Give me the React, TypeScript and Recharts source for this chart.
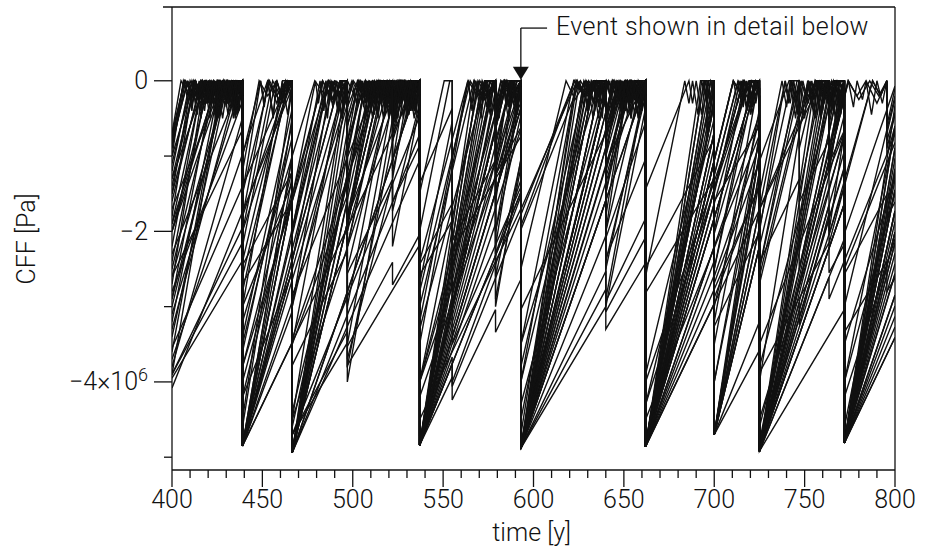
import React from "react";
import { LineChart, Line, XAxis, YAxis, ReferenceLine, ReferenceDot } from "recharts";

type Pt = [number, number];

// Coulomb failure function histories of individual fault patches.
// Each entry is [time in years, CFF in MPa (x10^6 Pa)].
const f01: Pt[] = [[400,-0.7],[407,0],[412,-0.2],[417,0],[423,-0.3],[428,0],[434,-0.15],[439,0],[439,-4.8],[487,0],[492,-0.2],[497,0],[503,-0.3],[509,0],[516,-0.2],[523,0],[530,-0.25],[537,0],[537,-4.8],[585,0],[589,-0.2],[593,0],[593,-4.85],[641.5,0],[647,-0.25],[653,0],[658,-0.15],[662,0],[662,-4.85],[710.5,0],[716,-0.2],[721,0],[725,-0.1],[725,-4.9],[774,0],[779,-0.2],[784,0],[790,-0.3],[795.5,0],[795.5,-0.6],[800,-0.1]];
const f02: Pt[] = [[400,-1.2],[410,0],[415,-0.25],[420,0],[426,-0.1],[431,0],[436,-0.3],[439,0],[439,-2.0],[455.7,0],[460,-0.2],[464,0],[466.5,-0.1],[466.5,-4.9],[507.3,0],[513,-0.2],[519,0],[524,-0.3],[530,0],[537,-0.15],[537,-4.0],[570.3,0],[575,-0.2],[579,0],[579,-0.4],[584,0],[589,-0.2],[593,0],[593,-4.5],[630.5,0],[636,-0.2],[640,0],[640,-0.5],[644,0],[650,-0.3],[656,0],[662,-0.1],[662,-4.8],[700,-0.24],[700,-2.5],[720.8,0],[725,-0.1],[725,-4.8],[765,0],[769,-0.2],[772,0],[772,-4.6],[800,-1.24]];
const f03: Pt[] = [[400,-2.0],[425,0],[430,-0.2],[435,0],[439,-0.1],[439,-4.85],[497,-0.2],[499.6,0],[505,-0.25],[511,0],[518,-0.15],[524,0],[531,-0.3],[537,0],[537,-4.85],[593,-0.37],[593,-4.9],[654.3,0],[658,-0.15],[662,0],[662,-4.86],[722.8,0],[725,-0.05],[725,-4.9],[772,-1.14],[772,-4.8],[800,-2.56]];
const f04: Pt[] = [[400,-3.0],[430,0],[434,-0.2],[439,0],[439,-3.5],[466.5,-0.75],[466.5,-4.94],[515.9,0],[522,-0.1],[522,-0.6],[528,0],[533,-0.2],[537,0],[537,-3.0],[567,0],[573,-0.25],[579,0],[579,-1.5],[593,-0.1],[593,-4.88],[640,-0.18],[640,-2.0],[660,0],[662,0],[662,-4.86],[700,-1.06],[700,-4.7],[747,0],[752,-0.2],[758,0],[763.5,-0.3],[768,0],[772,-0.1],[772,-4.81],[800,-2.01]];
const f05: Pt[] = [[400,-4.08],[466.5,-0.09],[466.5,-4.7],[522,-1.37],[537,-0.47],[537,-4.84],[555,-3.76],[555,-4.06],[593,-1.78],[622.7,0],[628,-0.2],[634,0],[640,-0.1],[640,-0.7],[651.7,0],[656,-0.2],[662,0],[662,-4.86],[700,-2.58],[700,-2.88],[725,-1.38],[725,-4.92],[763.5,-2.61],[763.5,-2.9],[800,-0.71]];
const f06: Pt[] = [[400,-3.9],[439,-1.95],[439,-4.85],[536,0],[537,0],[537,-4.5],[593,-1.7],[593,-4.88],[640,-2.53],[640,-2.93],[662,-1.83],[662,-4.86],[759.2,0],[764,-0.2],[768,0],[772,-0.1],[772,-4.81],[800,-3.41]];
const f07: Pt[] = [[400,-1.8],[412,0],[417,-0.3],[422,0],[428,-0.2],[433,0],[439,-0.15],[439,-4.6],[466.5,-0.48],[466.5,-4.5],[496.5,0],[497,0],[497,-1.5],[507,0],[512,-0.3],[517,0],[523,-0.2],[529,0],[534,-0.25],[537,0],[537,-4.84],[569.3,0],[574,-0.2],[579,0],[579,-2.2],[593,-0.1],[593,-4.7],[624.3,0],[630,-0.3],[635,0],[640,-0.1],[640,-1.8],[652,0],[657,-0.2],[662,0],[662,-4.86],[694.4,0],[696,0],[696,-0.8],[700,-0.2],[700,-4.7],[725,-0.95],[725,-4.92],[757.8,0],[763.5,0],[763.5,-1.0],[770.2,0],[772,0],[772,-4.81],[800,-0.6]];
const f08: Pt[] = [[400,-2.5],[425,0],[430,-0.2],[435,0],[439,-0.1],[439,-1.5],[454,0],[459,-0.25],[463,0],[466.5,-0.1],[466.5,-3.0],[496.5,0],[497,0],[497,-2.5],[522,0],[522,-1.2],[534,0],[537,0],[537,-4.84],[585.4,0],[589,-0.2],[593,0],[593,-2.5],[618,0],[623,-0.25],[629,0],[634,-0.15],[640,0],[640,-2.4],[662,-0.2],[662,-4.86],[710.6,0],[715,-0.2],[720,0],[725,-0.1],[725,-4.9],[772,-0.2],[772,-3.0],[800,-0.2]];
const f09: Pt[] = [[400,-3.7],[452.9,0],[458,-0.2],[463,0],[466.5,-0.05],[466.5,-4.94],[537,0],[537,-4.2],[593,-0.28],[593,-4.88],[640,-1.59],[640,-2.09],[662,-0.55],[662,-4.86],[700,-2.2],[700,-2.6],[725,-0.85],[725,-4.92],[772,-1.63],[772,-4.81],[800,-2.85]];
const f10: Pt[] = [[400,-0.9],[407.5,0],[413,-0.2],[419,0],[425,-0.35],[430,0],[435,-0.2],[439,0],[439,-4.85],[466.5,-1.55],[466.5,-2.4],[486.5,0],[491,-0.2],[497,0],[497,-3.8],[528.7,0],[533,-0.2],[537,0],[537,-2.0],[553.7,0],[555,0],[555,-3.0],[579,-0.12],[579,-1.0],[587.3,0],[593,0],[593,-4.88],[633.7,0],[640,0],[640,-0.6],[645,0],[651,-0.3],[656,0],[662,-0.1],[662,-4.86],[700,-0.3],[700,-4.7],[725,-1.7],[725,-2.5],[745.8,0],[747,0],[747,-1.5],[759.5,0],[763.5,0],[763.5,-0.5],[767.7,0],[772,0],[772,-4.81],[800,-1.45]];
const f11: Pt[] = [[400,-1.5],[416.7,0],[421,-0.2],[426,0],[431,-0.15],[435,0],[439,-0.1],[439,-4.0],[483.4,0],[489,-0.3],[494,0],[497,0],[497,-0.5],[502.6,0],[508,-0.2],[514,0],[520,-0.3],[526,0],[531,-0.15],[537,0],[537,-4.84],[590.8,0],[593,0],[593,-4.3],[640,-0.07],[640,-1.0],[651.1,0],[656,-0.2],[662,0],[662,-4.86],[716,0],[720,-0.2],[725,0],[725,-4.92],[772,-0.69],[772,-4.0],[800,-1.48]];
const f12: Pt[] = [[400,-3.9],[439,-2.15],[439,-2.45],[466.5,-1.21],[466.5,-4.7],[497,-3.33],[497,-3.53],[522,-2.41],[522,-2.71],[537,-2.04],[537,-2.44],[555,-1.63],[555,-2.13],[579,-1.05],[579,-1.25],[593,-0.62],[593,-4.88],[640,-2.77],[640,-3.07],[662,-2.08],[662,-2.48],[700,-0.77],[700,-4.7],[725,-3.58],[725,-3.88],[763.5,-2.15],[763.5,-2.55],[772,-2.17],[772,-2.57],[795.5,-1.51],[795.5,-1.81],[800,-1.61]];
const f13: Pt[] = [[400,-2.2],[416.9,0],[422,-0.25],[427,0],[433,-0.2],[439,0],[439,-1.2],[448.2,0],[453,-0.2],[458,0],[462,-0.3],[466.5,0],[466.5,-4.94],[504.5,0],[510,-0.2],[516,0],[522,0],[522,-0.4],[525.1,0],[531,-0.25],[537,0],[537,-3.5],[563.9,0],[569,-0.2],[574,0],[579,0],[579,-0.6],[583.6,0],[588,-0.2],[593,0],[593,-4.0],[623.8,0],[629,-0.2],[634,0],[640,0],[640,-2.9],[662,-0.04],[662,-4.86],[699.4,0],[700,0],[700,-4.0],[725,-0.75],[725,-4.92],[762.8,0],[763.5,0],[763.5,-0.3],[766,0],[772,0],[772,-4.81],[800,-1.17]];
const f14: Pt[] = [[400,-1.0],[412.5,0],[418,-0.2],[423,0],[429,-0.3],[434,0],[439,-0.1],[439,-3.2],[479,0],[485,-0.2],[490,0],[497,-0.1],[497,-0.8],[507,0],[513,-0.2],[519,0],[526,-0.3],[531,0],[537,-0.1],[537,-4.84],[593,-0.36],[593,-4.88],[654,0],[658,-0.2],[662,0],[662,-4.86],[722.8,0],[725,0],[725,-4.5],[772,-0.74],[772,-4.81],[800,-2.57]];
const f15: Pt[] = [[400,-3.4],[430.9,0],[435,-0.2],[439,0],[439,-2.8],[464.5,0],[466.5,0],[466.5,-4.6],[497,-1.24],[497,-1.8],[513.4,0],[519,-0.25],[524,0],[530,-0.2],[537,0],[537,-4.84],[579,-0.22],[579,-2.0],[593,-0.46],[593,-4.88],[637.4,0],[640,0],[640,-1.5],[653.6,0],[658,-0.2],[662,0],[662,-4.86],[700,-0.68],[700,-4.7],[725,-1.95],[725,-2.5],[747,-0.08],[747,-2.5],[769.7,0],[772,0],[772,-4.81],[800,-1.73]];
const f16: Pt[] = [[400,-1.3],[413,0],[418,-0.3],[423,0],[428,-0.15],[433,0],[439,-0.2],[439,-2.4],[463,0],[466.5,0],[466.5,-4.94],[515.9,0],[522,0],[522,-0.7],[529,0],[533,-0.2],[537,0],[537,-2.8],[565,0],[570,-0.2],[575,0],[579,0],[579,-0.5],[584,0],[589,-0.3],[593,0],[593,-4.88],[640,-0.18],[640,-1.2],[652,0],[657,-0.2],[662,0],[662,-4.3],[700,-0.5],[700,-3.0],[725,-0.5],[725,-4.92],[774.2,0],[780,-0.25],[786,0],[791,-0.2],[795.5,0],[795.5,-0.9],[800,-0.45]];
const f17: Pt[] = [[400,-2.8],[439,-0.27],[439,-4.85],[466.5,-3.06],[466.5,-3.5],[497,-1.52],[497,-1.82],[525,0],[531,-0.2],[537,0],[537,-4.84],[555,-3.67],[555,-4.0],[593,-1.53],[593,-1.93],[622.7,0],[628,-0.2],[634,0],[640,0],[640,-0.4],[646.2,0],[652,-0.2],[657,0],[662,-0.1],[662,-4.86],[700,-2.39],[700,-2.69],[741.4,0],[747,0],[747,-0.6],[756.2,0],[762,-0.2],[767,0],[772,-0.1],[772,-4.81],[800,-2.99]];
const f18: Pt[] = [[400,-0.7],[405,0],[410,-0.2],[416,0],[421,-0.3],[426,0],[432,-0.2],[439,0],[439,-4.85],[466.5,-1.0],[466.5,-3.0],[488,0],[492,-0.2],[497,0],[497,-4.0],[525.6,0],[531,-0.2],[537,0],[537,-4.84],[571.6,0],[575,-0.2],[579,0],[579,-3.0],[593,-1.04],[593,-4.88],[627.9,0],[633,-0.25],[640,0],[640,-0.5],[643.6,0],[650,-0.3],[656,0],[662,-0.1],[662,-4.86],[696.7,0],[700,0],[700,-4.7],[725,-1.2],[725,-4.92],[760.1,0],[763.5,0],[763.5,-1.2],[772,0],[772,-4.81],[800,-0.89]];
const f19: Pt[] = [[400,-2.0],[421,0],[426,-0.2],[432,0],[439,-0.1],[439,-3.8],[466.5,-1.19],[466.5,-1.6],[483.3,0],[489,-0.25],[494,0],[497,0],[497,-3.7],[522,-1.33],[522,-1.73],[537,-0.3],[537,-4.84],[588,0],[593,0],[593,-4.88],[644.4,0],[649,-0.2],[655,0],[662,-0.1],[662,-4.86],[713.2,0],[719,-0.25],[725,0],[725,-4.6],[772,-0.13],[772,-4.81],[800,-2.15]];
const f20: Pt[] = [[400,-3.55],[439,-1.4],[464.5,0],[466.5,0],[466.5,-4.94],[537,-1.06],[537,-1.36],[555,-0.37],[555,-3.5],[593,-1.41],[593,-1.71],[624.1,0],[630,-0.2],[635,0],[640,-0.1],[640,-0.6],[651,0],[656,-0.25],[662,0],[662,-4.86],[700,-2.77],[725,-1.4],[725,-1.7],[755.9,0],[761,-0.2],[766,0],[772,-0.1],[772,-4.81],[800,-3.27]];
const f21: Pt[] = [[400,-3.2],[426.7,0],[432,-0.2],[436,0],[439,-0.1],[439,-4.85],[466.5,-1.55],[466.5,-4.94],[497,-1.28],[497,-1.8],[512,0],[517,-0.2],[522,0],[522,-0.5],[526.2,0],[531,-0.25],[537,0],[537,-4.84],[577.3,0],[579,0],[579,-1.0],[587.3,0],[593,0],[593,-3.5],[622.2,0],[628,-0.2],[634,0],[640,0],[640,-3.0],[662,-0.36],[662,-4.86],[700,-0.3],[700,-2.0],[716.7,0],[721,-0.2],[725,0],[725,-4.92],[766,0],[769,-0.2],[772,0],[772,-4.81],[800,-1.45]];
const f22: Pt[] = [[400,-1.9],[425.3,0],[430,-0.2],[435,0],[439,0],[439,-2.0],[465.7,0],[466.5,0],[466.5,-4.5],[522,-0.34],[522,-0.8],[532.7,0],[537,0],[537,-4.84],[593,-0.64],[593,-4.88],[658,0],[662,0],[662,-4.3],[719.3,0],[725,0],[725,-4.92],[772,-1.4],[772,-4.2],[800,-2.1]];
const f23: Pt[] = [[400,-1.0],[406.3,0],[411,-0.3],[416,0],[421,-0.2],[426,0],[432,-0.35],[437,0],[439,0],[439,-4.5],[466.5,-0.1],[466.5,-4.94],[497,-0.06],[497,-2.0],[509.5,0],[514,-0.3],[519,0],[525,-0.2],[531,0],[537,-0.1],[537,-4.84],[567.3,0],[572,-0.25],[579,0],[579,-1.2],[586.5,0],[593,0],[593,-4.88],[623.5,0],[628,-0.2],[634,0],[640,0],[640,-2.0],[652.5,0],[657,-0.3],[662,0],[662,-4.86],[692.4,0],[696,0],[696,-0.7],[700,-0.06],[700,-4.7],[725,-0.7],[725,-4.92],[755.8,0],[760,-0.2],[763.5,0],[763.5,-2.0],[772,-0.68],[772,-4.81],[800,-0.33]];
const f24: Pt[] = [[400,-2.6],[430.6,0],[435,-0.2],[439,0],[439,-4.85],[496,0],[497,0],[497,-0.6],[504,0],[510,-0.3],[515,0],[521,-0.2],[527,0],[532,-0.3],[537,0],[537,-4.0],[584,0],[588,-0.2],[593,0],[593,-4.88],[650.4,0],[656,-0.2],[662,0],[662,-4.86],[700,-1.63],[700,-2.03],[723.9,0],[725,0],[725,-4.92],[763.5,-1.65],[763.5,-2.05],[787.6,0],[792,-0.2],[795.5,0],[795.5,-0.8],[800,-0.42]];
const f25: Pt[] = [[400,-3.95],[439,-2.39],[439,-2.69],[466.5,-1.59],[466.5,-4.7],[497,-3.48],[497,-3.78],[537,-2.18],[537,-2.58],[555,-1.86],[555,-2.26],[593,-0.74],[593,-4.88],[640,-3.0],[640,-3.3],[662,-2.42],[662,-2.82],[700,-1.3],[700,-1.6],[725,-0.6],[725,-4.92],[772,-3.04],[772,-3.34],[795.5,-2.4],[795.5,-2.8],[800,-2.62]];
const f26: Pt[] = [[400,-1.6],[416,0],[421,-0.25],[426,0],[432,-0.2],[439,0],[439,-4.2],[466.5,-1.45],[466.5,-2.0],[486.5,0],[492,-0.2],[497,0],[497,-0.35],[503,0],[509,-0.2],[515,0],[521,-0.3],[527,0],[532,-0.2],[537,0],[537,-4.84],[585.4,0],[593,0],[593,-4.0],[633,0],[640,0],[640,-0.8],[648,0],[655,-0.2],[662,0],[662,-4.86],[700,-1.06],[700,-4.7],[725,-2.2],[725,-2.6],[747,-0.4],[747,-0.9],[756,0],[763.5,0],[763.5,-0.4],[767.5,0],[772,0],[772,-4.81],[800,-2.01]];
const f27: Pt[] = [[400,-2.9],[423.2,0],[428,-0.2],[433,0],[439,0],[439,-1.8],[453.4,0],[458,-0.3],[463,0],[466.5,0],[466.5,-3.5],[494.5,0],[497,0],[497,-3.0],[521,0],[522,0],[522,-2.2],[537,-0.33],[537,-4.84],[575.7,0],[579,0],[579,-2.9],[593,-1.15],[593,-4.88],[632,0],[637,-0.2],[640,0],[640,-0.5],[644,0],[650,-0.2],[656,0],[662,0],[662,-4.86],[700,-0.1],[700,-3.5],[725,-0.38],[725,-4.92],[763.5,-0.1],[763.5,-1.0],[771.5,0],[772,0],[772,-4.81],[800,-1.31]];
const f28: Pt[] = [[400,-2.3],[438.3,0],[439,0],[439,-3.0],[466.5,-1.35],[466.5,-4.94],[537,-0.71],[537,-4.84],[593,-1.48],[593,-1.98],[626,0],[631,-0.2],[636,0],[640,0],[640,-0.5],[648.3,0],[654,-0.25],[659,0],[662,0],[662,-4.5],[725,-0.72],[725,-4.92],[772,-2.1],[772,-2.5],[800,-0.82]];
const f29: Pt[] = [[400,-0.75],[406.8,0],[412,-0.2],[418,0],[424,-0.3],[429,0],[434,-0.2],[439,0],[439,-3.6],[466.5,-0.57],[466.5,-4.94],[497,-1.6],[497,-2.2],[517,0],[522,0],[522,-0.6],[527.5,0],[533,-0.2],[537,0],[537,-1.5],[550.6,0],[555,0],[555,-2.5],[577.7,0],[579,0],[579,-0.3],[582,0],[588,-0.25],[593,0],[593,-4.88],[637.4,0],[640,0],[640,-2.5],[662,-0.08],[662,-4.86],[700,-0.68],[700,-2.5],[722.7,0],[725,0],[725,-4.92],[769.7,0],[772,0],[772,-4.81],[800,-1.73]];
const f30: Pt[] = [[400,-3.3],[436.7,0],[439,0],[439,-4.85],[492.9,0],[497,0],[497,-0.3],[500.3,0],[506,-0.2],[511,0],[517,-0.25],[522,0],[522,-0.4],[526.4,0],[532,-0.2],[537,0],[537,-3.3],[573.7,0],[579,0],[579,-0.5],[584.6,0],[589,-0.2],[593,0],[593,-4.88],[640,-0.65],[640,-1.2],[653.3,0],[658,-0.2],[662,0],[662,-4.86],[716,0],[721,-0.2],[725,0],[725,-4.92],[747,-2.94],[747,-3.24],[763.5,-1.76],[763.5,-2.16],[787.6,0],[792,-0.2],[795.5,0],[795.5,-1.0],[800,-0.6]];
const f31: Pt[] = [[400,-1.3],[418.6,0],[424,-0.2],[429,0],[434,-0.25],[439,0],[439,-4.85],[466.5,-2.93],[466.5,-3.43],[515.5,0],[521,-0.2],[526,0],[531,-0.3],[537,0],[537,-4.84],[579,-1.9],[579,-2.3],[593,-1.32],[593,-4.88],[662,-0.05],[662,-4.86],[725,-0.45],[725,-4.92],[772,-1.63],[772,-4.81],[800,-2.85]];
const f32: Pt[] = [[400,-1.5],[411.1,0],[416,-0.3],[421,0],[427,-0.2],[433,0],[439,-0.1],[439,-3.0],[461.2,0],[466.5,0],[466.5,-4.94],[503.1,0],[508,-0.25],[514,0],[522,0],[522,-1.3],[531.6,0],[537,0],[537,-4.84],[572.9,0],[579,0],[579,-0.4],[582,0],[588,-0.2],[593,0],[593,-4.88],[629.1,0],[634,-0.3],[640,0],[640,-1.0],[647.4,0],[653,-0.2],[662,0],[662,-4.86],[698,0],[700,0],[700,-4.7],[725,-1.33],[725,-4.92],[761.4,0],[763.5,0],[763.5,-0.6],[768,0],[772,0],[772,-4.81],[800,-1.03]];
const f33: Pt[] = [[400,-1.1],[411,0],[413,-0.3],[415,0],[418,-0.4],[420,0],[423,-0.2],[425,0],[428,-0.5],[431,0],[434,-0.3],[436,0],[439,-0.2],[439,-2.6],[465,0],[466.5,-0.15],[466.5,-4.94],[515.9,0],[518,-0.35],[520,0],[523,-0.5],[526,0],[528,-0.25],[530,0],[533,-0.4],[535,0],[537,-0.2],[537,-4.84],[585.4,0],[587,-0.3],[589,0],[591,-0.4],[593,0],[593,-4.88],[641.8,0],[644,-0.3],[646,0],[649,-0.45],[651,0],[654,-0.2],[656,0],[659,-0.35],[662,0],[662,-4.86],[710.6,0],[713,-0.3],[715,0],[718,-0.4],[720,0],[723,-0.2],[725,0],[725,-4.92],[774.2,0],[777,-0.35],[779,0],[782,-0.25],[784,0],[787,-0.45],[790,0],[793,-0.3],[795.5,0],[795.5,-0.7],[800,-0.25]];
const f34: Pt[] = [[400,-2.4],[420,0],[422,-0.3],[424,0],[427,-0.45],[429,0],[432,-0.2],[434,0],[437,-0.4],[439,0],[439,-4.85],[479.4,0],[481,-0.3],[483,0],[486,-0.5],[488,0],[491,-0.25],[493,0],[495,-0.4],[497,0],[497,-1.0],[505.3,0],[507,-0.3],[509,0],[512,-0.45],[514,0],[517,-0.2],[519,0],[522,-0.5],[524,0],[527,-0.3],[529,0],[532,-0.4],[534,0],[537,-0.2],[537,-3.2],[563.7,0],[566,-0.4],[568,0],[571,-0.25],[573,0],[576,-0.45],[578,0],[581,-0.3],[583,0],[586,-0.5],[588,0],[591,-0.25],[593,0],[593,-4.88],[633.7,0],[636,-0.35],[638,0],[641,-0.5],[643,0],[646,-0.3],[648,0],[651,-0.4],[653,0],[656,-0.25],[658,0],[660,-0.4],[662,0],[662,-2.6],[683.7,0],[686,-0.3],[688,0],[691,-0.45],[693,0],[696,-0.3],[698,0],[700,-0.2],[700,-4.7],[739.2,0],[741,-0.3],[743,0],[746,-0.45],[748,0],[751,-0.25],[753,0],[756,-0.5],[758,0],[761,-0.3],[763,0],[766,-0.4],[768,0],[770,-0.25],[772,0],[772,-4.0],[800,-0.64]];
const f35: Pt[] = [[400,-0.8],[408.9,0],[411,-0.4],[413,0],[416,-0.25],[418,0],[421,-0.5],[423,0],[426,-0.3],[428,0],[431,-0.45],[433,0],[436,-0.2],[439,0],[439,-4.85],[492.9,0],[495,-0.3],[497,0],[497,-0.6],[503.7,0],[506,-0.35],[508,0],[511,-0.5],[513,0],[516,-0.3],[518,0],[521,-0.4],[523,0],[526,-0.25],[528,0],[531,-0.45],[533,0],[535,-0.3],[537,0],[537,-2.4],[563.7,0],[566,-0.3],[568,0],[571,-0.5],[573,0],[576,-0.25],[579,0],[579,-0.8],[587.9,0],[590,-0.3],[593,0],[593,-4.88],[647.2,0],[649,-0.3],[651,0],[654,-0.45],[656,0],[659,-0.25],[662,0],[662,-4.86],[716,0],[718,-0.35],[720,0],[723,-0.3],[725,0],[725,-3.8],[767.2,0],[769,-0.3],[772,0],[772,-4.81],[800,-2.29]];
const f36: Pt[] = [[400,-2.7],[418,0],[420,-0.3],[422,0],[425,-0.5],[427,0],[430,-0.2],[432,0],[435,-0.4],[437,0],[439,-0.2],[439,-1.5],[449,0],[451,-0.35],[453,0],[456,-0.5],[458,0],[461,-0.3],[463,0],[466.5,-0.2],[466.5,-4.94],[499.4,0],[502,-0.3],[504,0],[507,-0.45],[509,0],[512,-0.25],[514,0],[517,-0.5],[519,0],[522,-0.3],[522,-1.1],[529.3,0],[532,-0.4],[534,0],[537,-0.2],[537,-4.84],[569.3,0],[571,-0.4],[573,0],[576,-0.25],[579,0],[579,-1.6],[589.7,0],[591,-0.3],[593,0],[593,-4.88],[625.5,0],[628,-0.35],[630,0],[633,-0.5],[635,0],[638,-0.3],[640,0],[640,-1.0],[646.7,0],[649,-0.4],[651,0],[654,-0.3],[656,0],[659,-0.45],[662,0],[662,-4.86],[694.4,0],[696,-0.3],[698,0],[700,-0.1],[700,-4.7],[725,-0.95],[725,-4.0],[751.7,0],[754,-0.35],[756,0],[759,-0.5],[761,0],[763.5,-0.3],[763.5,-1.2],[771.5,0],[772,0],[772,-4.81],[800,-0.61]];
const f37: Pt[] = [[400,-1.9],[417.3,0],[419,-0.3],[421,0],[424,-0.45],[426,0],[429,-0.25],[431,0],[434,-0.5],[436,0],[439,-0.3],[439,-3.4],[466.5,-0.37],[466.5,-4.94],[511.4,0],[513,-0.3],[515,0],[518,-0.45],[520,0],[523,-0.2],[525,0],[528,-0.5],[530,0],[533,-0.3],[535,0],[537,-0.2],[537,-4.84],[579,-0.22],[579,-2.6],[593,-1.06],[593,-4.88],[637.4,0],[639,-0.3],[641,0],[644,-0.45],[646,0],[649,-0.25],[651,0],[654,-0.5],[656,0],[659,-0.3],[662,0],[662,-4.86],[700,-0.68],[700,-4.7],[742.7,0],[745,-0.3],[747,0],[750,-0.5],[752,0],[755,-0.25],[757,0],[760,-0.4],[762,0],[765,-0.3],[767,0],[770,-0.45],[772,0],[772,-4.81],[800,-1.73]];
const f38: Pt[] = [[400,-3.1],[438.8,0],[439,0],[439,-3.8],[486.5,0],[489,-0.35],[491,0],[494,-0.5],[496,0],[497,-0.1],[497,-1.3],[513.3,0],[515,-0.3],[517,0],[520,-0.45],[522,0],[525,-0.25],[527,0],[530,-0.5],[532,0],[535,-0.3],[537,0],[537,-4.84],[593,-0.36],[593,-3.5],[636.8,0],[639,-0.35],[641,0],[644,-0.5],[646,0],[649,-0.3],[651,0],[654,-0.45],[656,0],[659,-0.25],[662,0],[662,-4.86],[722.8,0],[725,-0.1],[725,-4.92],[772,-1.16],[772,-3.5],[800,-1.26]];
const f39: Pt[] = [[400,-3.6],[427.7,0],[430,-0.3],[432,0],[435,-0.45],[437,0],[439,-0.2],[439,-4.85],[466.5,-1.27],[466.5,-2.0],[481.9,0],[484,-0.4],[486,0],[489,-0.25],[491,0],[494,-0.5],[497,0],[497,-3.5],[523.9,0],[526,-0.3],[528,0],[531,-0.45],[533,0],[535,-0.3],[537,0],[537,-4.84],[574.2,0],[576,-0.35],[578,0],[581,-0.5],[583,0],[586,-0.3],[588,0],[591,-0.45],[593,0],[593,-4.88],[630.5,0],[633,-0.3],[635,0],[638,-0.5],[640,0],[643,-0.25],[645,0],[648,-0.4],[650,0],[653,-0.3],[655,0],[658,-0.5],[660,0],[662,-0.2],[662,-4.86],[699.4,0],[700,0],[700,-3.2],[724.6,0],[725,0],[725,-4.92],[762.8,0],[765,-0.35],[767,0],[770,-0.4],[772,0],[772,-4.81],[800,-1.17]];
const f40: Pt[] = [[400,-0.85],[408.5,0],[411,-0.35],[413,0],[416,-0.5],[418,0],[421,-0.3],[423,0],[426,-0.45],[428,0],[431,-0.25],[433,0],[436,-0.4],[439,0],[439,-1.0],[449,0],[451,-0.3],[453,0],[456,-0.45],[458,0],[461,-0.25],[463,0],[466.5,-0.3],[466.5,-4.4],[510.5,0],[513,-0.4],[515,0],[518,-0.3],[520,0],[523,-0.5],[525,0],[528,-0.25],[530,0],[533,-0.4],[535,0],[537,-0.2],[537,-4.84],[579,-0.64],[579,-1.2],[591,0],[593,0],[593,-4.88],[640,-0.18],[640,-0.9],[649,0],[651,-0.3],[653,0],[656,-0.45],[658,0],[662,-0.2],[662,-3.9],[700,-0.1],[700,-4.7],[725,-2.2],[725,-2.7],[752,0],[754,-0.3],[756,0],[759,-0.45],[761,0],[764,-0.3],[766,0],[769,-0.4],[772,0],[772,-4.81],[800,-2.01]];
const f41: Pt[] = [[400,-2.0],[428.6,0],[431,-0.3],[433,0],[436,-0.4],[439,0],[439,-1.8],[464.7,0],[466.5,0],[466.5,-4.94],[537,0],[537,-4.0],[593,-0.08],[593,-4.88],[662,-0.05],[662,-4.0],[719.1,0],[721,-0.3],[723,0],[725,-0.2],[725,-4.92],[772,-1.63],[772,-2.03],[800,-0.07]];
const f42: Pt[] = [[400,-3.9],[427.9,0],[430,-0.35],[432,0],[435,-0.5],[437,0],[439,-0.25],[439,-4.85],[466.5,-0.99],[466.5,-4.94],[497,-0.67],[497,-1.4],[507,0],[509,-0.3],[511,0],[514,-0.45],[516,0],[519,-0.25],[521,0],[524,-0.5],[526,0],[529,-0.3],[531,0],[534,-0.4],[537,0],[537,-4.84],[571.6,0],[574,-0.35],[576,0],[579,-0.2],[579,-2.0],[593,-0.04],[593,-4.88],[627.9,0],[630,-0.4],[632,0],[635,-0.25],[637,0],[640,-0.3],[640,-1.5],[650.7,0],[653,-0.35],[655,0],[658,-0.5],[660,0],[662,-0.2],[662,-4.86],[696.7,0],[698,-0.3],[700,0],[700,-4.7],[725,-1.2],[725,-2.0],[739.3,0],[742,-0.3],[744,0],[747,-0.5],[749,0],[752,-0.3],[754,0],[757,-0.45],[759,0],[762,-0.25],[764,0],[767,-0.5],[769,0],[772,-0.2],[772,-4.81],[800,-0.89]];
const f43: Pt[] = [[400,-2.6],[439,-0.65],[439,-4.85],[466.5,-3.48],[466.5,-3.78],[497,-2.26],[497,-2.56],[522,-1.31],[522,-1.61],[537,-0.86],[537,-4.84],[555,-3.94],[555,-4.24],[579,-3.04],[579,-3.34],[593,-2.64],[593,-3.04],[640,-0.69],[640,-1.09],[661.8,0],[662,0],[662,-4.86],[700,-2.96],[700,-3.26],[725,-2.01],[725,-2.41],[747,-1.31],[747,-1.61],[763.5,-0.79],[763.5,-1.09],[772,-0.66],[772,-4.81],[800,-3.41]];
const f44: Pt[] = [[400,-1.4],[413.3,0],[416,-0.4],[418,0],[421,-0.25],[423,0],[426,-0.5],[428,0],[431,-0.3],[433,0],[436,-0.45],[439,0],[439,-4.85],[485.2,0],[487,-0.3],[489,0],[492,-0.45],[494,0],[497,-0.2],[497,-2.2],[518,0],[520,-0.3],[522,0],[525,-0.5],[527,0],[530,-0.3],[532,0],[535,-0.4],[537,0],[537,-4.84],[583.1,0],[585,-0.35],[587,0],[590,-0.45],[593,0],[593,-3.8],[629.2,0],[631,-0.3],[633,0],[636,-0.5],[638,0],[640,-0.2],[640,-0.7],[646.7,0],[649,-0.35],[651,0],[654,-0.5],[656,0],[659,-0.3],[662,0],[662,-4.86],[700,-0.87],[700,-1.5],[714.3,0],[716,-0.35],[718,0],[721,-0.45],[723,0],[725,-0.2],[725,-4.92],[771.9,0],[772,0],[772,-4.81],[800,-1.87]];
const f45: Pt[] = [[400,-2.9],[430.5,0],[433,-0.35],[435,0],[437,-0.3],[439,0],[439,-4.85],[490.1,0],[492,-0.4],[494,0],[497,-0.25],[497,-0.9],[506.5,0],[509,-0.35],[511,0],[514,-0.5],[516,0],[519,-0.3],[521,0],[524,-0.45],[526,0],[529,-0.25],[531,0],[534,-0.5],[537,0],[537,-4.0],[579,0],[579,-1.5],[593,-0.17],[593,-4.88],[640,-0.42],[644.4,0],[647,-0.3],[649,0],[652,-0.45],[654,0],[657,-0.3],[659,0],[662,-0.2],[662,-4.86],[713.2,0],[715,-0.3],[717,0],[720,-0.45],[722,0],[725,-0.2],[725,-4.92],[772,-0.45],[772,-4.81],[800,-2.15]];
const f46: Pt[] = [[400,-1.7],[428.3,0],[431,-0.3],[433,0],[436,-0.45],[439,0],[439,-4.2],[466.5,-2.55],[466.5,-2.85],[514,0],[516,-0.3],[518,0],[521,-0.4],[522,0],[522,-0.6],[532,0],[535,-0.3],[537,0],[537,-4.84],[593,-1.48],[593,-4.88],[640,-2.06],[640,-2.36],[662,-1.04],[662,-1.44],[686,0],[688,-0.3],[690,0],[693,-0.45],[695,0],[698,-0.3],[700,0],[700,-4.7],[725,-3.2],[725,-3.5],[772,-0.68],[772,-4.81],[800,-3.13]];
const f47: Pt[] = [[400,-0.8],[406.7,0],[409,-0.3],[411,0],[414,-0.45],[416,0],[419,-0.3],[421,0],[424,-0.5],[426,0],[429,-0.25],[431,0],[434,-0.4],[436,0],[439,-0.2],[439,-2.2],[457.3,0],[459,-0.35],[461,0],[464,-0.45],[466.5,0],[466.5,-4.94],[497,-1.28],[497,-1.9],[512.8,0],[515,-0.3],[517,0],[520,-0.5],[522,0],[525,-0.3],[527,0],[530,-0.4],[532,0],[535,-0.25],[537,0],[537,-2.7],[555,-0.54],[555,-2.8],[578.3,0],[579,0],[579,-0.5],[583.2,0],[586,-0.35],[588,0],[591,-0.45],[593,0],[593,-4.88],[633.7,0],[636,-0.3],[638,0],[640,-0.2],[640,-0.8],[646.7,0],[649,-0.4],[651,0],[654,-0.3],[656,0],[659,-0.45],[662,0],[662,-4.86],[700,-0.3],[700,-4.0],[725,-1.0],[725,-1.5],[737.5,0],[740,-0.35],[742,0],[745,-0.5],[747,0],[750,-0.3],[752,0],[755,-0.45],[757,0],[760,-0.25],[762,0],[765,-0.4],[767,0],[770,-0.3],[772,0],[772,-4.81],[800,-1.45]];
const f48: Pt[] = [[400,-3.8],[439,-0.49],[439,-4.85],[466.5,-2.51],[466.5,-2.91],[497,-0.31],[497,-2.0],[520.5,0],[522,-0.1],[522,-0.5],[527.9,0],[530,-0.35],[532,0],[535,-0.45],[537,0],[537,-4.84],[593,-0.08],[593,-4.88],[640,-0.89],[640,-1.29],[655.2,0],[657,-0.3],[659,0],[662,-0.2],[662,-4.86],[719.2,0],[721,-0.35],[723,0],[725,-0.2],[725,-4.92],[772,-0.93],[772,-4.81],[800,-2.43]];

const patches: Pt[][] = [
  f01, f02, f03, f04, f05, f06, f07, f08, f09, f10, f11, f12, f13, f14, f15, f16,
  f17, f18, f19, f20, f21, f22, f23, f24, f25, f26, f27, f28, f29, f30, f31, f32,
  f33, f34, f35, f36, f37, f38, f39, f40, f41, f42, f43, f44, f45, f46, f47, f48,
];

const xTicks = [400, 410, 420, 430, 440, 450, 460, 470, 480, 490, 500, 510, 520, 530, 540, 550, 560, 570, 580, 590, 600, 610, 620, 630, 640, 650, 660, 670, 680, 690, 700, 710, 720, 730, 740, 750, 760, 770, 780, 790, 800];
const xLabels = [400, 450, 500, 550, 600, 650, 700, 750, 800];
const yTicks = [-5, -4, -3, -2, -1, 0];
// [value, text, exponent]
const yLabels: [number, string, string][] = [[0, "0", ""], [-2, "\u22122", ""], [-4, "\u22124\u00d710", "6"]];

const X_MIN = 400;
const X_MAX = 800;
const Y_MIN = -5.17;
const Y_MAX = 0.98;

// event marker: arrow at the rupture at t = 593
const eventT = 593;
const eventText = "Event shown in detail below";

const FONT = "Roboto, 'Liberation Sans', sans-serif";
const INK = "#111";
const FS = 25;

const XTick = ({ x, y, payload }: any) => {
  const major = xLabels.includes(payload.value);
  return (
    <g>
      <line x1={x} y1={y} x2={x} y2={y + (major ? 17 : 8)} stroke={INK} strokeWidth={1.3} />
      {major && (
        <text x={x} y={y + 38} textAnchor="middle" fontSize={FS} fontWeight={300} fill={INK} fontFamily={FONT}>
          {payload.value}
        </text>
      )}
    </g>
  );
};

const YTick = ({ x, y, payload }: any) => {
  const lab = yLabels.find((l) => l[0] === payload.value);
  return (
    <g>
      <line x1={x - (lab ? 18 : 8)} y1={y} x2={x} y2={y} stroke={INK} strokeWidth={1.3} />
      {lab && (
        <text x={x - 24} y={y + 8.5} textAnchor="end" fontSize={FS} fontWeight={300} fill={INK} fontFamily={FONT}>
          {lab[1]}
          {lab[2] && (
            <tspan dy={-9} fontSize={18}>
              {lab[2]}
            </tspan>
          )}
        </text>
      )}
    </g>
  );
};

const App = () => {
  return (
    <div style={{ position: "absolute", left: 0, top: 0, background: "#fff" }}>
      <LineChart width={928} height={552} margin={{ top: 7, right: 33, bottom: 81, left: 171 }}>
        <XAxis
          type="number"
          dataKey="t"
          domain={[X_MIN, X_MAX]}
          ticks={xTicks}
          interval={0}
          height={1}
          tickSize={0}
          tickMargin={0}
          tick={<XTick />}
          tickLine={false}
          axisLine={{ stroke: INK, strokeWidth: 1.3 }}
          allowDataOverflow
        />
        <YAxis
          type="number"
          domain={[Y_MIN, Y_MAX]}
          ticks={yTicks}
          interval={0}
          width={1}
          tickSize={0}
          tickMargin={0}
          tick={<YTick />}
          tickLine={false}
          axisLine={{ stroke: INK, strokeWidth: 1.3 }}
          allowDataOverflow
        />
        {/* frame */}
        <ReferenceLine
          segment={[{ x: 395, y: Y_MAX }, { x: X_MAX, y: Y_MAX }]}
          stroke={INK}
          strokeWidth={1.3}
          ifOverflow="visible"
        />
        <ReferenceLine x={X_MAX} stroke={INK} strokeWidth={1.3} ifOverflow="visible" />

        {patches.map((p, i) => (
          <Line
            key={i}
            data={p.map(([t, v]) => ({ t, v }))}
            dataKey="v"
            type="linear"
            stroke={INK}
            strokeWidth={1.4}
            dot={false}
            activeDot={false}
            isAnimationActive={false}
          />
        ))}

        {/* annotation arrow */}
        <ReferenceLine
          segment={[{ x: eventT, y: 0.7 }, { x: eventT, y: 0.17 }]}
          stroke={INK}
          strokeWidth={1.3}
          ifOverflow="visible"
        />
        <ReferenceLine
          segment={[{ x: eventT, y: 0.7 }, { x: 607.5, y: 0.7 }]}
          stroke={INK}
          strokeWidth={1.3}
          ifOverflow="visible"
        />
        <ReferenceDot
          x={eventT}
          y={0}
          ifOverflow="visible"
          shape={(p: any) => (
            <polygon
              points={`${p.cx - 8},${p.cy - 14} ${p.cx + 8},${p.cy - 14} ${p.cx},${p.cy - 1}`}
              fill={INK}
            />
          )}
        />
        <ReferenceDot
          x={607.5}
          y={0.7}
          ifOverflow="visible"
          shape={(p: any) => (
            <text
              x={p.cx + 9}
              y={p.cy + 7}
              fontSize={FS}
              fontWeight={300}
              letterSpacing={0.4}
              fill={INK}
              fontFamily={FONT}
            >
              {eventText}
            </text>
          )}
        />

        {/* axis titles */}
        <ReferenceDot
          x={599}
          y={Y_MIN}
          ifOverflow="visible"
          shape={(p: any) => (
            <text x={p.cx} y={p.cy + 71} textAnchor="middle" fontSize={FS} fontWeight={300} fill={INK} fontFamily={FONT}>
              time [y]
            </text>
          )}
        />
        <ReferenceDot
          x={X_MIN}
          y={-2.1}
          ifOverflow="visible"
          shape={(p: any) => (
            <text
              x={p.cx - 137}
              y={p.cy}
              transform={`rotate(-90 ${p.cx - 137} ${p.cy})`}
              textAnchor="middle"
              fontSize={FS}
              fontWeight={300}
              fill={INK}
              fontFamily={FONT}
            >
              CFF [Pa]
            </text>
          )}
        />
      </LineChart>
    </div>
  );
};

export default App;
